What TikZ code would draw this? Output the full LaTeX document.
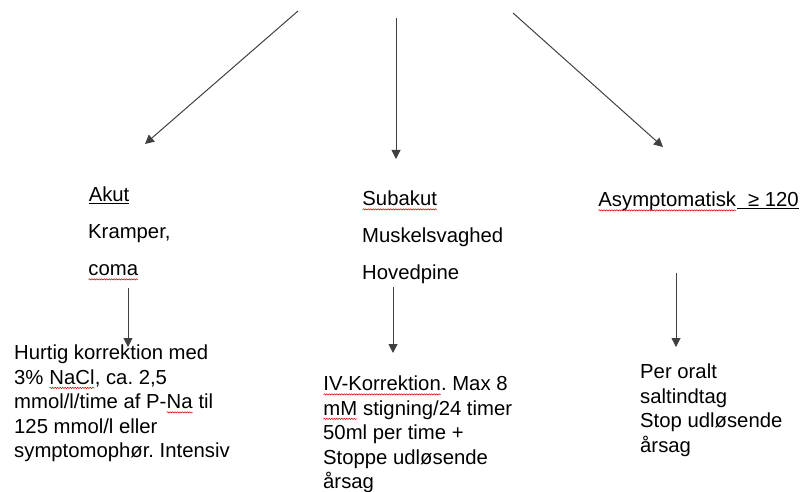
\documentclass[tikz,border=0pt]{standalone}
\usepackage{fontspec}
\setmainfont{Liberation Sans}
\usetikzlibrary{arrows.meta, positioning, calc, decorations.pathmorphing}
\usepackage{xcolor}
\frenchspacing
\tikzset{
  symp/.style  = {align=left, anchor=north west, inner sep=0pt,
                  font=\fontsize{20.3}{37}\selectfont},
  treat/.style = {align=left, anchor=north west, inner sep=0pt,
                  font=\fontsize{20.3}{24.5}\selectfont},
  pil/.style   = {-{Triangle[length=9pt, width=9pt]}, line width=1pt, draw=black!75},
  ord/.style   = {anchor=base, inner sep=0pt, outer sep=0pt},
  wave/.style  = {draw=red!85!black, line width=0.5pt, decorate,
                  decoration={snake, amplitude=0.7pt, segment length=2.5pt}}
}
\newcommand\redwave[1]{\tikz[baseline=(ord.base)]{\node[ord] (ord) {#1};
  \draw[wave] ([yshift=-3.5pt]ord.base west) -- ([yshift=-3.5pt]ord.base east);}}
\newcommand\streg[1]{\tikz[baseline=(ord.base)]{\node[ord] (ord) {#1};
  \draw[line width=1.1pt] ([yshift=-1.8pt]ord.base west) -- ([yshift=-1.8pt]ord.base east);}}
\begin{document}
\begin{tikzpicture}[x=1pt, y=-1pt]
\useasboundingbox (0,0) rectangle (803,492);
\coordinate (topL) at (298,11);
\coordinate (topM) at (396,18);
\coordinate (topR) at (513,13);
\coordinate (endL) at (145,144);
\coordinate (endM) at (396,159);
\coordinate (endR) at (663,147);
\draw[pil] (topL) -- (endL);
\draw[pil] (topM) -- (endM);
\draw[pil] (topR) -- (endR);
\node[symp] (akut) at (88,187) {\streg{Akut}\\Kramper,\\\redwave{coma}};
\node[symp] (subakut) at (362,191) {\redwave{Subakut}\\Muskelsvaghed\\Hovedpine};
\node[symp] (asymp) at (598,192) {\redwave{Asymptomatisk}\streg{\ \ ≥ 120}};
\node[treat] (hurtig) at (14,345) {Hurtig korrektion med\\3\% \redwave{NaCl}, ca. 2,5\\mmol/l/time af P-\redwave{Na} til\\125 mmol/l eller\\symptomophør. Intensiv};
\node[treat] (ivkorr) at (323,376) {\redwave{IV-Korrektion}. Max 8\\\redwave{mM} stigning/24 timer\\50ml per time +\\Stoppe udløsende\\årsag};
\node[treat] (oralt) at (640,364) {Per oralt\\saltindtag\\Stop udløsende\\årsag};
\coordinate (akutpil) at ([shift={(40,101)}]akut.north west);
\coordinate (subpil) at ([shift={(31,96)}]subakut.north west);
\coordinate (asympil) at ([shift={(78,81)}]asymp.north west);
\draw[pil] (akutpil) -- ([yshift=-2pt]akutpil |- hurtig.north);
\draw[pil] (subpil) -- ([yshift=23pt]subpil |- ivkorr.north);
\draw[pil] (asympil) -- ([yshift=17pt]asympil |- oralt.north);
\end{tikzpicture}
\end{document}
